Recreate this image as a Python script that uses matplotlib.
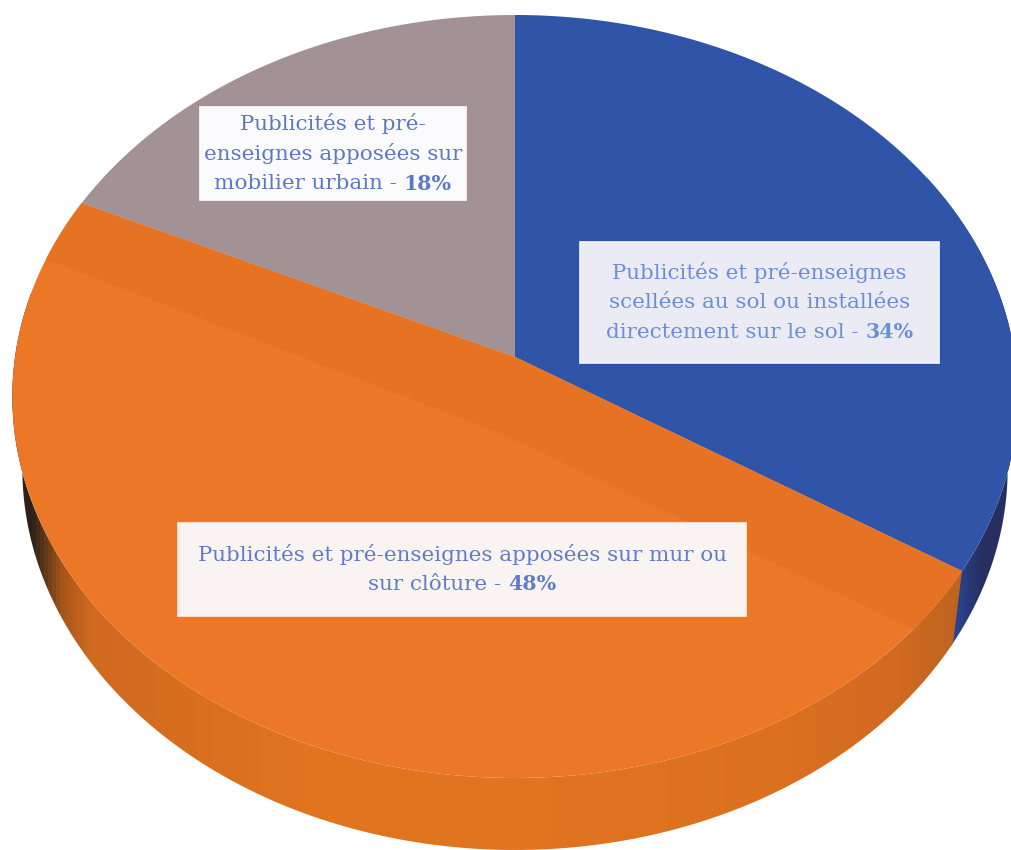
import matplotlib
matplotlib.use("Agg")
import matplotlib.pyplot as plt
from matplotlib.colors import LinearSegmentedColormap
from matplotlib.patches import Polygon
import numpy as np

# share of each type of advertising device, clockwise from the top
categories = ["scellees", "mur", "mobilier"]
shares = [34, 48, 18]
top_colors = ["#3054a8", "#ec7726", "#a29296"]

label_lines = [
    ["Publicités et pré-enseignes", "scellées au sol ou installées", "directement sur le sol - "],
    ["Publicités et pré-enseignes apposées sur mur ou", "sur clôture - "],
    ["Publicités et pré-", "enseignes apposées sur", "mobilier urbain - "],
]
label_values = ["34%", "48%", "18%"]

# pie disc seen in perspective
CX, CY = 515, 357
RX, RY, TILT = 500, 377.4, 0.1035
DEPTH = 72
SHRINK = 0.98
W, H = 1011, 850


def project(theta, drop=0.0, xscale=1.0):
    # theta is clockwise from the top of the pie
    u = np.sin(theta)
    v = np.cos(theta)
    w = 1 + TILT * v
    return CX + xscale * RX * u / w, CY + drop - RY * v / w


def side_wall(start, end, stops):
    # rim band between two angles, shaded left to right
    t = np.linspace(start, end, 300)
    x1, y1 = project(t)
    x2, y2 = project(t[::-1], drop=DEPTH, xscale=SHRINK)
    clip = Polygon(np.c_[np.r_[x1, x2], np.r_[y1, y2]], closed=True, transform=ax.transData,
                   fc="none", ec="none")
    ax.add_patch(clip)
    cmap = LinearSegmentedColormap.from_list("wall", [(x / W, c) for x, c in stops])
    grad = np.linspace(0, 1, 1011).reshape(1, -1)
    im = ax.imshow(grad, cmap=cmap, extent=(0, W, H, 0), aspect="auto", vmin=0, vmax=1)
    im.set_clip_path(clip)


fig = plt.figure(figsize=(10.11, 8.5), dpi=100)
ax = fig.add_axes([0, 0, 1, 1])

edges = 2 * np.pi * np.cumsum([0] + shares) / sum(shares)

side_wall(np.radians(60), edges[1] + 0.01, [(0, "#2c4c9e"), (950, "#2c4c9e"), (965, "#2a3f85"),
                                           (985, "#262f60"), (W, "#262f60")])
side_wall(edges[1], np.radians(280), [(0, "#2e2018"), (30, "#2e2018"), (45, "#6a3c18"), (60, "#a8551a"),
                                     (90, "#d06a20"), (300, "#e0741f"), (500, "#e2751f"),
                                     (780, "#db7020"), (900, "#d26a20"), (955, "#bf641f"), (W, "#bf641f")])

# top faces
for i in range(len(shares)):
    t = np.linspace(edges[i], edges[i + 1], 200)
    x, y = project(t)
    ax.fill(np.r_[CX, x], np.r_[CY, y], color=top_colors[i], lw=0)

# darker band the orange slice carries along its two straight edges
right_end = edges[1] + 0.17
left_end = edges[2] - 0.17
t1 = np.linspace(edges[1], right_end, 20)
t2 = np.linspace(left_end, edges[2], 20)
bx1, by1 = project(t1)
bx2, by2 = project(t2)
ax.fill(np.r_[CX, bx1, 500, bx2], np.r_[CY, by1, 433, by2], color="#e57323", lw=0)

ax.set_xlim(0, W)
ax.set_ylim(H, 0)
ax.axis("off")

renderer = fig.canvas.get_renderer()


def draw_label(box, lines, value, size, text_color, box_color, rim_color):
    x0, y0, x1, y1 = box
    ax.fill([x0, x1, x1, x0], [y0, y0, y1, y1], fc=box_color, ec=rim_color, lw=1.2)
    gap = 30
    xc = (x0 + x1) / 2
    y = (y0 + y1) / 2 - gap * (len(lines) - 1) / 2
    for n, line in enumerate(lines):
        if n < len(lines) - 1:
            ax.text(xc, y, line, ha="center", va="center", fontsize=size, color=text_color,
                    family="DejaVu Serif")
        else:
            a = ax.text(0, y, line, ha="left", va="center", fontsize=size, color=text_color,
                        family="DejaVu Serif")
            b = ax.text(0, y, value, ha="left", va="center", fontsize=size - 0.6, color=text_color,
                        family="DejaVu Serif", fontweight="bold")
            wa = a.get_window_extent(renderer).width
            wb = b.get_window_extent(renderer).width
            a.set_x(xc - (wa + wb) / 2)
            b.set_x(xc - (wa + wb) / 2 + wa)
        y += gap


draw_label((580, 242, 939, 363), label_lines[0], label_values[0], 15.4, "#6a8fd8", "#ebebf5", "#f3f5fb")
draw_label((178, 523, 746, 616), label_lines[1], label_values[1], 15.4, "#5f7cc6", "#f9f3f2", "#fbf0e8")
draw_label((200, 107, 466, 200), label_lines[2], label_values[2], 15.4, "#5a78c4", "#fbfafc", "#fdfdfd")

fig.savefig("out.png", dpi=100)
